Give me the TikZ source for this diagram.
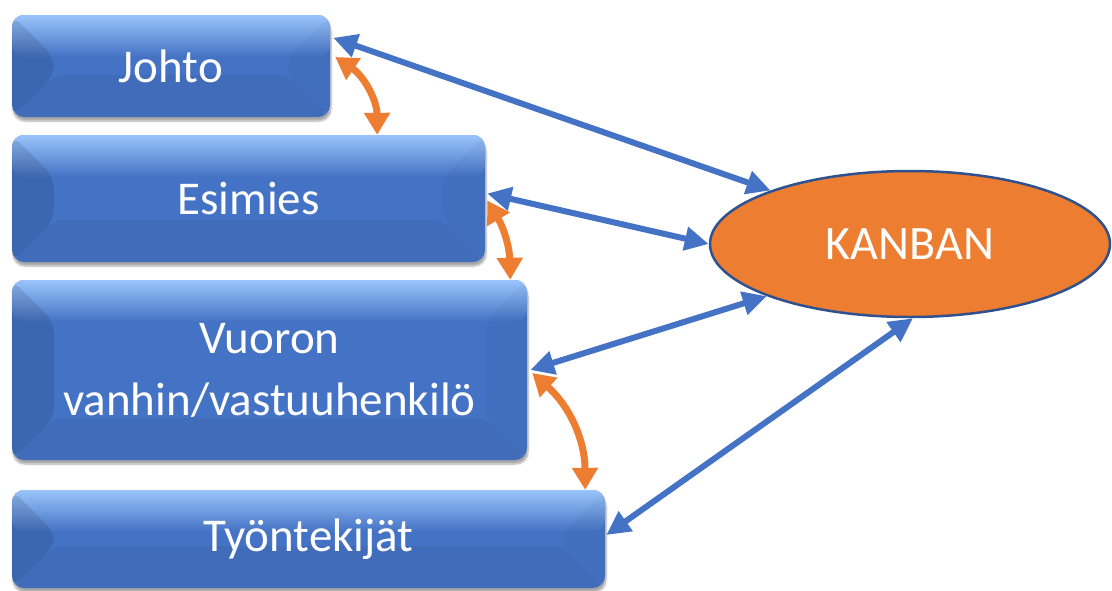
\documentclass[tikz,border=0pt]{standalone}
\usepackage{fontspec}
\setmainfont{Carlito}
\usetikzlibrary{shapes.geometric,arrows.meta,shadows.blur}

\definecolor{btnblue}{HTML}{4472C4}
\definecolor{btnlight}{HTML}{9AC4FB}
\definecolor{kanbanorange}{HTML}{ED7D31}
\definecolor{rimblue}{HTML}{2F528F}

\tikzset{
  btn/.style={
    rounded corners=12pt, fill=btnblue, text=white, align=center,
    font=\fontsize{47}{62}\selectfont, inner sep=0pt,
    blur shadow={shadow xshift=1pt, shadow yshift=-4pt,
                 shadow opacity=35, shadow blur steps=6},
    path picture={
      \path (path picture bounding box.south west) coordinate (bb-sw)
            (path picture bounding box.north east) coordinate (bb-ne);
      % light top bevel
      \shade[top color=btnlight, bottom color=btnblue]
        (bb-sw |- bb-ne) rectangle ([yshift=-42pt]bb-ne);
      % left bevel
      \fill[black, opacity=0.10]
        (bb-sw |- bb-ne) -- ([xshift=42pt,yshift=-42pt]bb-sw |- bb-ne)
        -- ([xshift=42pt,yshift=42pt]bb-sw) -- (bb-sw) -- cycle;
      % right bevel
      \fill[black, opacity=0.03]
        (bb-ne) -- ([xshift=-42pt,yshift=-42pt]bb-ne)
        -- ([xshift=-42pt,yshift=42pt]bb-ne |- bb-sw) -- (bb-ne |- bb-sw) -- cycle;
      % bottom bevel
      \fill[black, opacity=0.05]
        (bb-sw) -- ([xshift=42pt,yshift=42pt]bb-sw)
        -- ([xshift=-42pt,yshift=42pt]bb-ne |- bb-sw) -- (bb-ne |- bb-sw) -- cycle;
    }},
  hub/.style={ellipse, fill=kanbanorange, draw=rimblue, line width=2.5pt,
    text=white, font=\fontsize{48}{54}\selectfont, inner sep=0pt},
  link/.style={draw=btnblue, line width=6pt,
    {Triangle[length=24pt,width=23pt]}-{Triangle[length=24pt,width=23pt]}},
  swap/.style={draw=kanbanorange, line width=7pt,
    {Triangle[length=22pt,width=25pt]}-{Triangle[length=22pt,width=25pt]}},
}

\begin{document}
\begin{tikzpicture}[x=1pt,y=-1pt]
  \useasboundingbox (0,0) rectangle (1112,590);

  \node[btn, minimum width=318pt, minimum height=102pt] (johto)   at (171,66)    {Johto};
  \node[btn, minimum width=473pt, minimum height=127pt] (esimies) at (248.5,198.5) {Esimies};
  \node[btn, minimum width=515pt, minimum height=180pt] (vuoron)  at (269.5,370) {Vuoron\\vanhin/vastuuhenkilö};
  \node[btn, minimum width=593pt, minimum height=98pt]  (tyo)     at (308.5,539) {Työntekijät};

  \node[hub, minimum width=400pt, minimum height=146pt] (kanban) at (910,244) {KANBAN};

  % links to the board
  \draw[link] ([xshift=3pt,yshift=-23pt]johto.north east) -- (kanban.159);
  \draw[link] ([xshift=2pt,yshift=5pt]esimies.east) -- (kanban.west);
  \draw[link] ([xshift=3pt]vuoron.east) -- (kanban.200);
  \draw[link] ([xshift=1pt,yshift=4pt]tyo.east) -- ([xshift=3pt]kanban.south);

  % exchange between levels
  \draw[swap] ([xshift=5pt,yshift=9pt]johto.east) to[bend left=28] ([xshift=-108pt]esimies.north east);
  \draw[swap] ([xshift=2pt,yshift=-2pt]esimies.east) to[bend left=15] ([xshift=-17pt]vuoron.north east);
  \draw[swap] ([xshift=5pt,yshift=-3pt]vuoron.east) to[bend left=24] ([xshift=-20pt]tyo.north east);
\end{tikzpicture}
\end{document}
